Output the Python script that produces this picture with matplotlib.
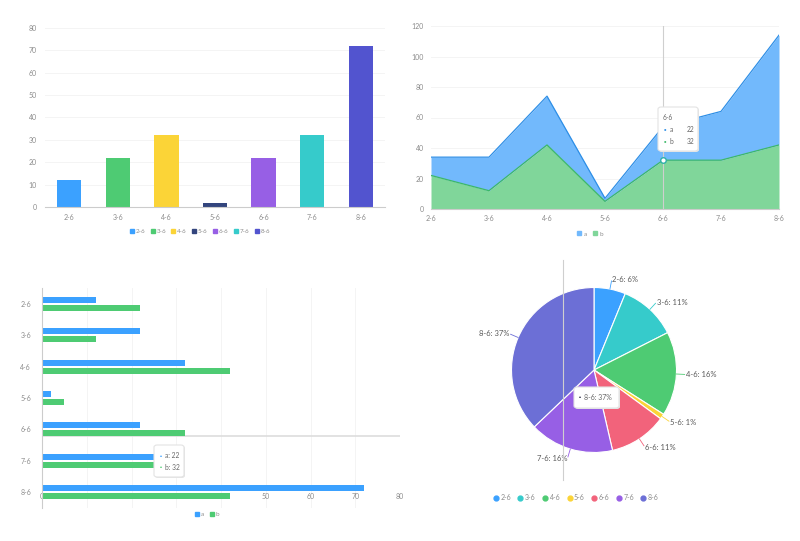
import numpy as np
import matplotlib
matplotlib.use('Agg')
import matplotlib.pyplot as plt
from matplotlib.lines import Line2D
from matplotlib.patches import FancyBboxPatch

# data
days = ['2-6', '3-6', '4-6', '5-6', '6-6', '7-6', '8-6']
a_vals = [12, 22, 32, 2, 22, 32, 72]
b_vals = [22, 12, 42, 5, 32, 32, 42]

bar_colors = ['#3ba1ff', '#4ecb73', '#fbd437', '#33457d', '#975fe5', '#36cbcb', '#5254cf']
pie_colors = ['#3ba1ff', '#36cbcb', '#4ecb73', '#fbd437', '#f2637b', '#975fe5', '#6c6fd6']
a_color = '#3ba1ff'
b_color = '#4ecb73'

plt.rcParams['font.family'] = ['Lato', 'DejaVu Sans']
TXT = '#8c8c8c'
W, H = 800, 541
fig = plt.figure(figsize=(W / 100, H / 100), dpi=100)
fig.patch.set_facecolor('white')


def px_axes(x0, y0, x1, y1):
    return fig.add_axes([x0 / W, 1 - y1 / H, (x1 - x0) / W, (y1 - y0) / H])


def fpos(x, y):
    return x / W, 1 - y / H


def tooltip(x0, y0, x1, y1):
    # shadow then box, in figure pixels
    sh = FancyBboxPatch(fpos(x0 + 1, y1 + 1), (x1 - x0) / W, (y1 - y0) / H,
                        boxstyle='round,pad=0,rounding_size=0.004',
                        transform=fig.transFigure, fc='#e6e6e6', ec='none', zorder=9)
    bx = FancyBboxPatch(fpos(x0, y1), (x1 - x0) / W, (y1 - y0) / H,
                        boxstyle='round,pad=0,rounding_size=0.004',
                        transform=fig.transFigure, fc='white', ec='#e3e3e3', lw=0.8, zorder=10)
    fig.patches.append(sh)
    fig.patches.append(bx)


def clean(ax, left=False):
    for s in ['top', 'right', 'left']:
        ax.spines[s].set_visible(False)
    ax.spines['bottom'].set_color('#cccccc')
    ax.spines['bottom'].set_linewidth(0.8)
    ax.tick_params(length=0, labelsize=5, labelcolor=TXT)


x = np.arange(len(days))

# ---- top left: column chart
ax1 = px_axes(45, 28, 385, 207)
ax1.bar(x, a_vals, width=0.5, color=bar_colors, zorder=2)
ax1.set_xlim(-0.5, 6.5)
ax1.set_ylim(0, 80)
ax1.set_yticks(range(0, 81, 10))
ax1.set_xticks(x, days)
ax1.grid(axis='y', color='#f2f2f2', lw=0.6)
ax1.set_axisbelow(True)
clean(ax1)
ax1.tick_params(axis='y', pad=6)
ax1.tick_params(axis='x', pad=5)
h1 = [Line2D([], [], ls='', marker='s', ms=2.8, color=c) for c in bar_colors]
fig.legend(h1, days, loc='center', bbox_to_anchor=fpos(200, 231), ncol=7, frameon=False,
           fontsize=4.5, labelcolor=TXT, handlelength=0.6, handletextpad=0.3, columnspacing=0.9)

# ---- top right: stacked area
ax2 = px_axes(431, 26, 779, 209)
a_arr = np.array(a_vals)
b_arr = np.array(b_vals)
ax2.fill_between(x, 0, b_arr, color='#80d69a', lw=0, zorder=2)
ax2.fill_between(x, b_arr, a_arr + b_arr, color='#72b9fc', lw=0, zorder=2)
ax2.plot(x, b_arr, color='#3cb868', lw=0.9, zorder=3)
ax2.plot(x, a_arr + b_arr, color='#2d8ee6', lw=0.9, zorder=3)
ax2.set_xlim(0, 6)
ax2.set_ylim(0, 120)
ax2.set_yticks(range(0, 121, 20))
ax2.set_xticks(x, days)
ax2.grid(axis='y', color='#f2f2f2', lw=0.6)
ax2.set_axisbelow(True)
clean(ax2)
ax2.tick_params(axis='y', pad=5)
ax2.tick_params(axis='x', pad=4)
ax2.axvline(4, color='#cfcfcf', lw=0.8, zorder=4)
ax2.plot([4], [b_vals[4]], marker='o', ms=4, mfc='white', mec='#2fb0a8', mew=1, zorder=5)
h2 = [Line2D([], [], ls='', marker='s', ms=3.5, color=c) for c in ['#72b9fc', '#80d69a']]
fig.legend(h2, ['a', 'b'], loc='center', bbox_to_anchor=fpos(590, 234), ncol=2, frameon=False,
           fontsize=4.5, labelcolor=TXT, handlelength=0.8, handletextpad=0.3, columnspacing=0.9)
tooltip(658, 107, 698, 151)
fig.text(*fpos(663, 118), days[4], fontsize=4.8, color='#666666', va='center', zorder=11)
for yy, nm, val, col in [(129, 'a', a_vals[4], '#2d8ee6'), (141, 'b', b_vals[4], '#3cb868')]:
    fig.text(*fpos(664, yy), '\u25cf', fontsize=3, color=col, va='center', zorder=11)
    fig.text(*fpos(670, yy), nm, fontsize=4.8, color='#666666', va='center', zorder=11)
    fig.text(*fpos(694, yy), str(val), fontsize=4.8, color='#666666', va='center', ha='right', zorder=11)

# ---- bottom left: grouped horizontal bars
ax3 = px_axes(42, 288, 400, 508)
ax3.barh(x - 0.127, a_vals, height=0.19, color=a_color, zorder=2)
ax3.barh(x + 0.127, b_vals, height=0.19, color=b_color, zorder=2)
ax3.set_ylim(6.5, -0.5)
ax3.set_xlim(0, 80)
ax3.set_xticks(range(0, 81, 10))
ax3.set_yticks(x, days)
ax3.grid(axis='x', color='#f2f2f2', lw=0.6)
ax3.set_axisbelow(True)
for s in ['top', 'right', 'bottom']:
    ax3.spines[s].set_visible(False)
ax3.spines['left'].set_color('#cccccc')
ax3.spines['left'].set_linewidth(0.8)
ax3.tick_params(length=0, labelsize=5, labelcolor=TXT)
ax3.tick_params(axis='y', pad=8)
ax3.tick_params(axis='x', pad=-11)
ax3.axhline(4.22, color='#dddddd', lw=1.2, zorder=1.5)
h3 = [Line2D([], [], ls='', marker='s', ms=3, color=c) for c in [a_color, b_color]]
fig.legend(h3, ['a', 'b'], loc='center', bbox_to_anchor=fpos(207, 514), ncol=2, frameon=False,
           fontsize=4.5, labelcolor=TXT, handlelength=0.7, handletextpad=0.3, columnspacing=0.9)
tooltip(154, 445, 184, 477)
for yy, nm, val, col in [(456, 'a', a_vals[4], a_color), (467.5, 'b', b_vals[4], b_color)]:
    fig.text(*fpos(160, yy), '\u25cf', fontsize=2.5, color=col, va='center', zorder=11)
    fig.text(*fpos(165, yy), f'{nm}: {val}', fontsize=4.8, color='#666666', va='center', zorder=11)

# ---- bottom right: pie of a
R = 82.5
cx, cy = 594, 370
pax0, pax1, pay0, pay1 = 430, 770, 255, 485
ax4 = px_axes(pax0, pay0, pax1, pay1)
ax4.set_xlim((pax0 - cx) / R, (pax1 - cx) / R)
ax4.set_ylim((cy - pay1) / R, (cy - pay0) / R)
ax4.axis('off')
wedges, _ = ax4.pie(a_vals, colors=pie_colors, startangle=90, counterclock=False, radius=1,
                    wedgeprops=dict(edgecolor='white', linewidth=0.8))
ax4.set_xlim((pax0 - cx) / R, (pax1 - cx) / R)
ax4.set_ylim((cy - pay1) / R, (cy - pay0) / R)
total = sum(a_vals)
for w, d, v, c in zip(wedges, days, a_vals, pie_colors):
    ang = np.deg2rad((w.theta1 + w.theta2) / 2)
    ca, sa = np.cos(ang), np.sin(ang)
    ax4.plot([ca * 1.0, ca * 1.1], [sa * 1.0, sa * 1.1], color=c, lw=0.6)
    ha = 'left' if ca >= 0 else 'right'
    ax4.text(ca * 1.12, sa * 1.12, f'{d}: {round(v / total * 100)}%', fontsize=5.5,
             color='#595959', ha=ha, va='center')
ax4.plot([(562.7 - cx) / R] * 2, [(cy - 260) / R, (cy - 480) / R], color='#cfcfcf', lw=0.8, zorder=5)
tooltip(574, 387, 619, 408)
fig.text(*fpos(579, 397.5), '\u25cf', fontsize=2.5, color='#1d1d3a', va='center', zorder=11)
fig.text(*fpos(584, 397.5), f'{days[6]}: {round(a_vals[6] / total * 100)}%', fontsize=5,
         color='#666666', va='center', zorder=11)
h4 = [Line2D([], [], ls='', marker='o', ms=3.5, color=c) for c in pie_colors]
fig.legend(h4, days, loc='center', bbox_to_anchor=fpos(576, 497.5), ncol=7, frameon=False,
           fontsize=5, labelcolor=TXT, handlelength=0.7, handletextpad=0.3, columnspacing=1.0)

fig.savefig('out.png', dpi=100, facecolor='white')
